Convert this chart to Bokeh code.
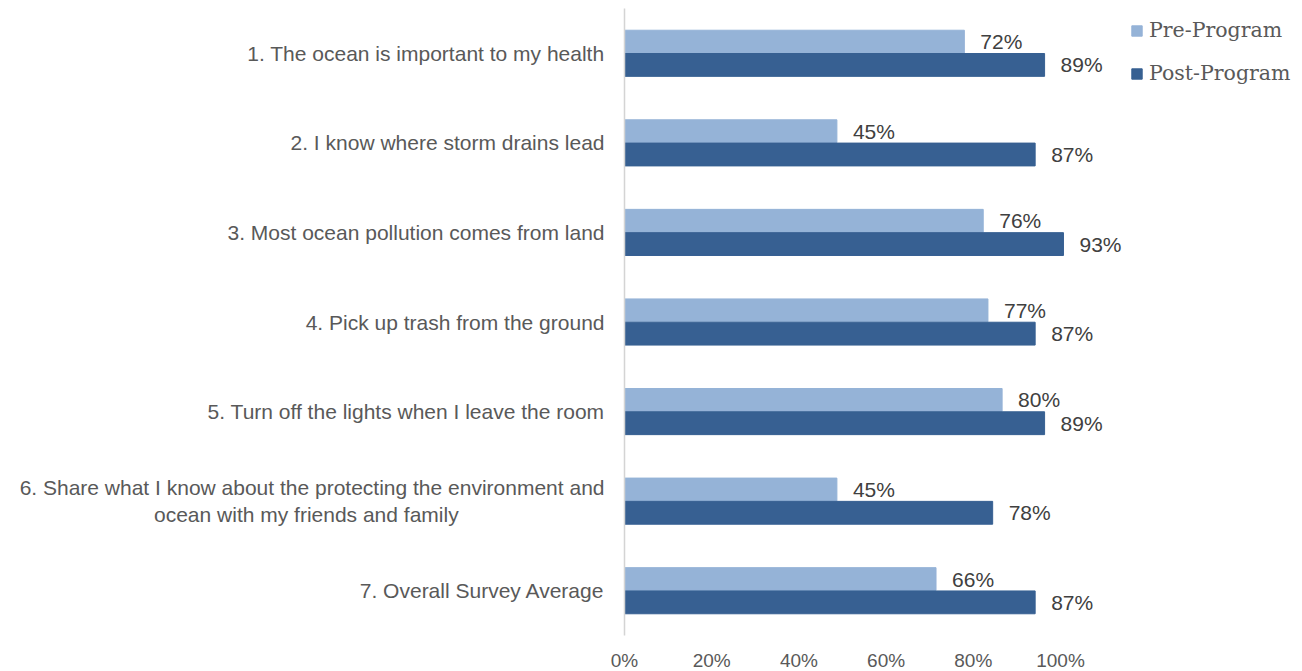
from bokeh.plotting import figure
from bokeh.models import (ColumnDataSource, FactorRange, Range1d, LinearAxis, FixedTicker,
                          NumeralTickFormatter, Legend, LegendItem)
from bokeh.core.properties import value
from bokeh.transform import dodge
from bokeh.embed import file_html
from bokeh.resources import INLINE

NB = "\u00a0"
categories = [
    "1. The ocean is important to my health",
    "2. I know where storm drains lead",
    "3. Most ocean pollution comes from land",
    "4. Pick up trash from the ground",
    "5. Turn off the lights when I leave the room",
    "6. Share what I know about the protecting the environment and\nocean with my friends and family" + NB * 25,
    "7. Overall Survey Average",
]
pre_program = [0.72, 0.45, 0.76, 0.77, 0.80, 0.45, 0.66]
post_program = [0.89, 0.87, 0.93, 0.87, 0.89, 0.78, 0.87]
tick_values = [0, 0.2, 0.4, 0.6, 0.8, 1.0]

PRE_C = "#95B3D7"
POST_C = "#376092"

src = ColumnDataSource(dict(
    cat=categories,
    pre=pre_program,
    post=post_program,
    pre_lbl=[f"{round(v*100)}%" for v in pre_program],
    post_lbl=[f"{round(v*100)}%" for v in post_program],
))

p = figure(frame_width=678, frame_height=627, output_backend="svg", toolbar_location=None,
           y_range=FactorRange(factors=list(reversed(categories)), range_padding=0),
           x_range=Range1d(0, 1.4364), x_axis_location=None,
           min_border_left=624, min_border_right=0, min_border_top=8, min_border_bottom=0)
p.outline_line_color = None
p.xgrid.visible = False
p.ygrid.visible = False
p.background_fill_color = "white"

bw = 0.255
r_pre = p.hbar(y=dodge("cat", 0.13, range=p.y_range), right="pre", left=0, height=bw,
               color=PRE_C, source=src)
r_post = p.hbar(y=dodge("cat", -0.13, range=p.y_range), right="post", left=0, height=bw,
                color=POST_C, source=src)

p.text(x="pre", y=dodge("cat", 0.13, range=p.y_range), text="pre_lbl", source=src,
       x_offset=16, y_offset=0, text_baseline="middle", text_align="left",
       text_font_size="21px", text_color="#404040", text_font=value("Liberation Sans"))
p.text(x="post", y=dodge("cat", -0.13, range=p.y_range), text="post_lbl", source=src,
       x_offset=16, y_offset=0, text_baseline="middle", text_align="left",
       text_font_size="21px", text_color="#404040", text_font=value("Liberation Sans"))

yax = p.yaxis[0]
yax.axis_line_color = "#d4d4d4"
yax.axis_line_width = 1.5
yax.major_tick_line_color = None
yax.minor_tick_line_color = None
yax.major_label_standoff = 14
yax.major_label_text_font = "Liberation Sans"
yax.major_label_text_font_size = "21px"
yax.major_label_text_color = "#595959"
yax.major_label_text_align = "right"

p.extra_x_ranges = {"lbl": Range1d(0, 1.555)}
xax = LinearAxis(x_range_name="lbl", ticker=FixedTicker(ticks=tick_values),
                 formatter=NumeralTickFormatter(format="0%"))
xax.axis_line_color = None
xax.major_tick_line_color = None
xax.minor_tick_line_color = None
xax.major_label_standoff = 8
xax.major_label_text_font = "Liberation Sans"
xax.major_label_text_font_size = "19px"
xax.major_label_text_color = "#595959"
p.add_layout(xax, "below")

legend = Legend(items=[LegendItem(label="Pre-Program", renderers=[r_pre]),
                       LegendItem(label="Post-Program", renderers=[r_post])],
                location=(506, 550), orientation="vertical",
                glyph_width=13, glyph_height=13, label_standoff=6, spacing=19,
                label_text_font="DejaVu Serif", label_text_font_size="20.5px",
                label_text_color="#595959", border_line_color=None,
                background_fill_alpha=0, padding=0, margin=0)
p.add_layout(legend, "center")

open("out.html", "w").write(file_html(p, INLINE))
